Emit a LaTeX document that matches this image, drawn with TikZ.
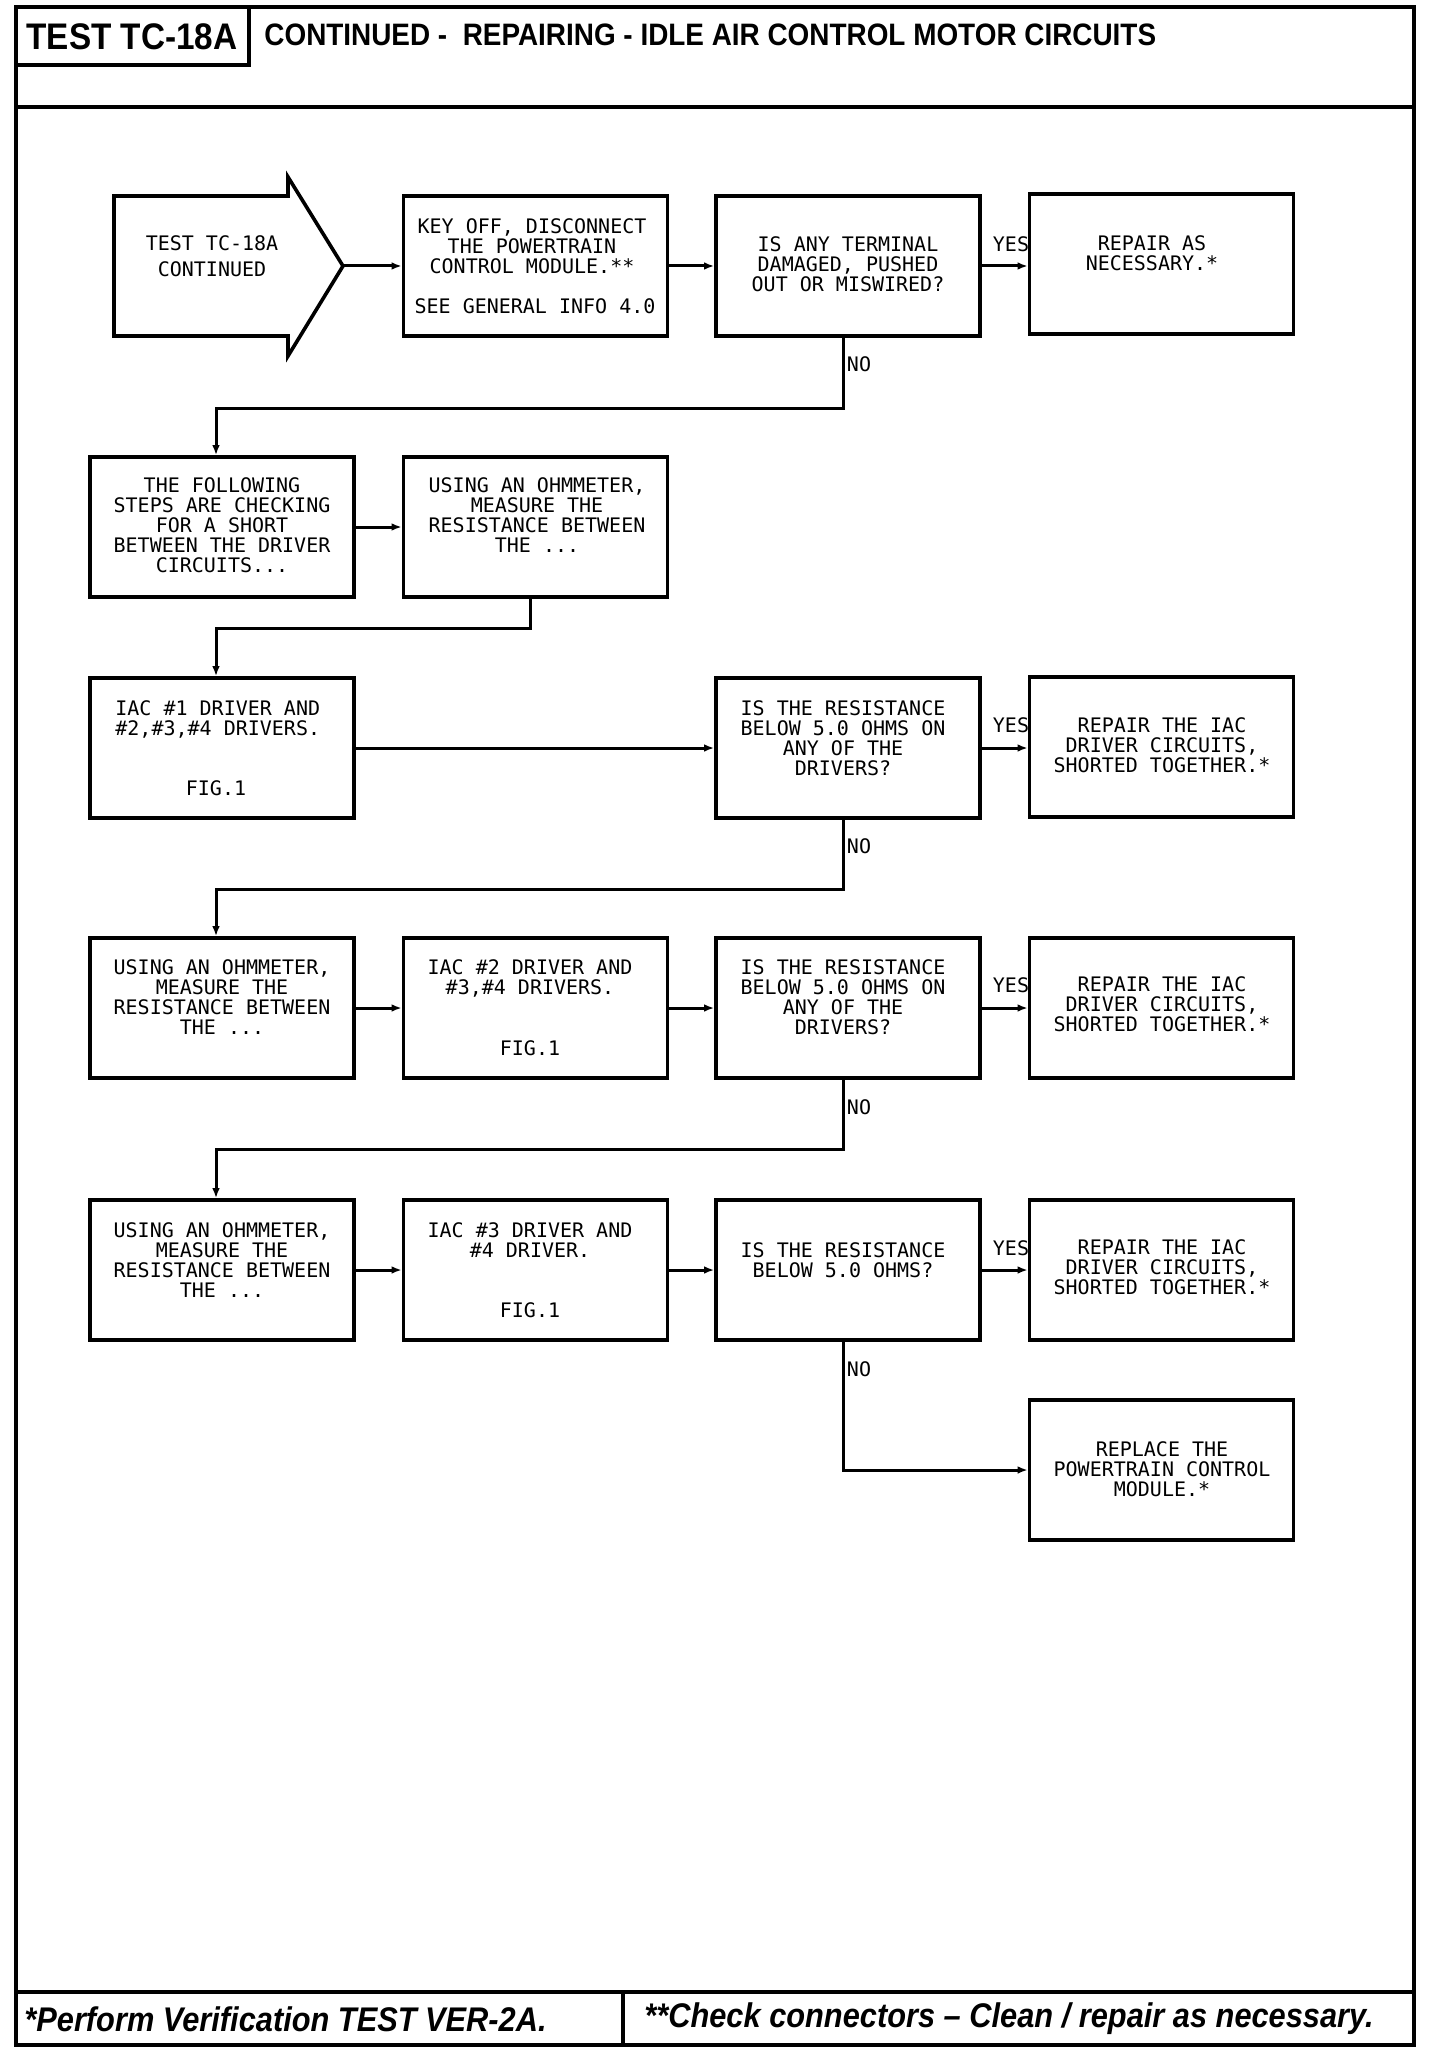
\documentclass[tikz,border=0pt]{standalone}
\usepackage{fontspec}
\setmainfont{Liberation Sans}
\newfontfamily\hdrfont[FakeStretch=0.9]{Liberation Sans}
\newfontfamily\plotfont{DejaVu Sans Mono}
\usetikzlibrary{arrows.meta,calc}
\begin{document}
\begin{tikzpicture}[x=0.5pt,y=-0.5pt,
  frame/.style={line width=1.9pt},
  box/.style={draw, line width=1.8pt, minimum width=132pt, minimum height=70pt, inner sep=0pt},
  txt/.style={font=\plotfont\fontsize{10}{10}\selectfont, align=center, inner sep=0pt, anchor=north},
  txtl/.style={txt, align=left, anchor=north west},
  lbl/.style={font=\plotfont\fontsize{10}{10}\selectfont, inner sep=0pt},
  conn/.style={line width=1.5pt, -{Latex[length=5pt,width=3.8pt]}},
  hdr/.style={font=\hdrfont\bfseries\fontsize{18.5}{20}\selectfont, inner sep=0pt},
  ttl/.style={font=\hdrfont\bfseries\fontsize{15.5}{17}\selectfont, inner sep=0pt, anchor=west},
  foot/.style={font=\hdrfont\bfseries\itshape\fontsize{17.1}{19}\selectfont, inner sep=0pt, anchor=west}
]
\useasboundingbox (0,0) rectangle (1440,2048);
\fill[white] (0,0) rectangle (1440,2048);

% frame
\draw[frame] (16,7) rectangle (1414,2045);
\draw[frame] (16,107) -- (1414,107);
\draw[frame] (16,1992) -- (1414,1992);
\draw[frame] (623,1992) -- (623,2045);
\draw[frame] (249,7) -- (249,65) -- (16,65);
\node[hdr] (hdrid) at (132,37) {TEST TC-18A};
\node[ttl] (hdrtitle) at (264,35) {CONTINUED -\ \ REPAIRING - IDLE AIR CONTROL MOTOR CIRCUITS};
\node[foot] (foot1) at (24,2019) {*Perform Verification TEST VER-2A.};
\node[foot] (foot2) at (644,2019) {**Check connectors – Clean / repair as necessary.};

% start arrow
\draw[line width=1.8pt, line join=miter] (114,196) -- (288,196) -- (288,177) -- (343,266) -- (288,356) -- (288,336) -- (114,336) -- cycle;
\coordinate (a1tip) at (343,266);
\node[txt, anchor=center, font=\plotfont\fontsize{10}{13}\selectfont] (a1) at (212,256) {TEST TC-18A\\CONTINUED};

% boxes
\node[box] (b12) at (535.5,266) {};
\node[box] (b13) at (848,266) {};
\node[box] (b14) at (1161.5,264) {};
\node[box] (b21) at (222,527) {};
\node[box] (b22) at (535.5,527) {};
\node[box] (b31) at (222,748) {};
\node[box] (b33) at (848,748) {};
\node[box] (b34) at (1161.5,747) {};
\node[box] (b41) at (222,1008) {};
\node[box] (b42) at (535.5,1008) {};
\node[box] (b43) at (848,1008) {};
\node[box] (b44) at (1161.5,1008) {};
\node[box] (b51) at (222,1270) {};
\node[box] (b52) at (535.5,1270) {};
\node[box] (b53) at (848,1270) {};
\node[box] (b54) at (1161.5,1270) {};
\node[box] (b6) at (1161.5,1470) {};

% texts
\node[txt] (t12) at (532,218) {KEY OFF, DISCONNECT\\THE POWERTRAIN\\CONTROL MODULE.**};
\node[txt] (t12b) at (535,298) {SEE GENERAL INFO 4.0};
\node[txt] (t13) at (848,236) {IS ANY TERMINAL\\DAMAGED, PUSHED\\OUT OR MISWIRED?};
\node[txt] (t14) at (1152,235) {REPAIR AS\\NECESSARY.*};
\node[txt] (t21) at (222,477) {THE FOLLOWING\\STEPS ARE CHECKING\\FOR A SHORT\\BETWEEN THE DRIVER\\CIRCUITS...};
\node[txt] (t22) at (537,477) {USING AN OHMMETER,\\MEASURE THE\\RESISTANCE BETWEEN\\THE ...};
\node[txtl] (t31) at (115,700) {IAC \#1 DRIVER AND\\\#2,\#3,\#4 DRIVERS.};
\node[txt] (t31b) at (216,780) {FIG.1};
\node[txt] (t33) at (843,700) {IS THE RESISTANCE\\BELOW 5.0 OHMS ON\\ANY OF THE\\DRIVERS?};
\node[txt] (t34) at (1162,717) {REPAIR THE IAC\\DRIVER CIRCUITS,\\SHORTED TOGETHER.*};
\node[txt] (t41) at (222,959) {USING AN OHMMETER,\\MEASURE THE\\RESISTANCE BETWEEN\\THE ...};
\node[txt] (t42) at (530,959) {IAC \#2 DRIVER AND\\\#3,\#4 DRIVERS.};
\node[txt] (t42b) at (530,1040) {FIG.1};
\node[txt] (t43) at (843,959) {IS THE RESISTANCE\\BELOW 5.0 OHMS ON\\ANY OF THE\\DRIVERS?};
\node[txt] (t44) at (1162,976) {REPAIR THE IAC\\DRIVER CIRCUITS,\\SHORTED TOGETHER.*};
\node[txt] (t51) at (222,1222) {USING AN OHMMETER,\\MEASURE THE\\RESISTANCE BETWEEN\\THE ...};
\node[txt] (t52) at (530,1222) {IAC \#3 DRIVER AND\\\#4 DRIVER.};
\node[txt] (t52b) at (530,1302) {FIG.1};
\node[txt] (t53) at (843,1242) {IS THE RESISTANCE\\BELOW 5.0 OHMS?};
\node[txt] (t54) at (1162,1239) {REPAIR THE IAC\\DRIVER CIRCUITS,\\SHORTED TOGETHER.*};
\node[txt] (t6) at (1162,1441) {REPLACE THE\\POWERTRAIN CONTROL\\MODULE.*};

% labels
\node[lbl] (y1) at (1011,244) {YES};
\node[lbl] (y3) at (1011,725) {YES};
\node[lbl] (y4) at (1011,985) {YES};
\node[lbl] (y5) at (1011,1248) {YES};
\node[lbl] (n1) at (859,364) {NO};
\node[lbl] (n3) at (859,846) {NO};
\node[lbl] (n4) at (859,1107) {NO};
\node[lbl] (n5) at (859,1369) {NO};

% connectors
\draw[conn] (a1tip) -- (b12.west);
\draw[conn] (b12.east) -- (b13.west);
\draw[conn] (b13.east) -- (b13.east -| b14.west);
\draw[conn] ($(b13.south)+(-5,0)$) -- ++(0,71) -| ($(b21.north)+(-6,0)$);
\draw[conn] (b21.east) -- (b22.west);
\draw[conn] ($(b22.south)+(-5,0)$) -- ++(0,30) -| ($(b31.north)+(-6,0)$);
\draw[conn] (b31.east) -- (b33.west);
\draw[conn] (b33.east) -- (b33.east -| b34.west);
\draw[conn] ($(b33.south)+(-5,0)$) -- ++(0,70) -| ($(b41.north)+(-6,0)$);
\draw[conn] (b41.east) -- (b42.west);
\draw[conn] (b42.east) -- (b43.west);
\draw[conn] (b43.east) -- (b44.west);
\draw[conn] ($(b43.south)+(-5,0)$) -- ++(0,70) -| ($(b51.north)+(-6,0)$);
\draw[conn] (b51.east) -- (b52.west);
\draw[conn] (b52.east) -- (b53.west);
\draw[conn] (b53.east) -- (b54.west);
\draw[conn] ($(b53.south)+(-5,0)$) |- (b6.west);
\end{tikzpicture}
\end{document}
